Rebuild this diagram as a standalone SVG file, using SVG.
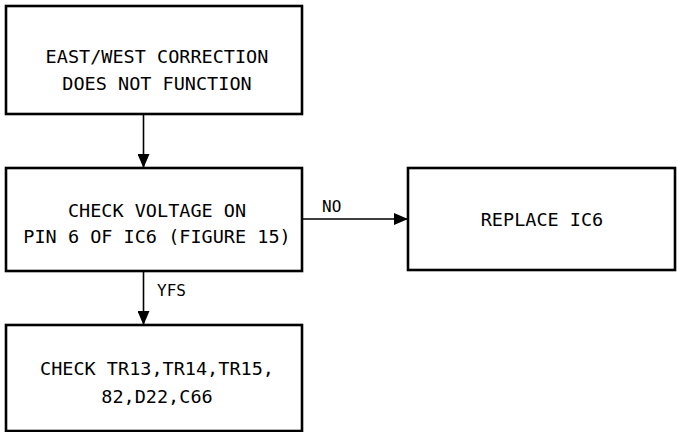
<svg xmlns="http://www.w3.org/2000/svg" width="677" height="432" viewBox="0 0 677 432">
<style>
.box{fill:#fff;stroke:#000;stroke-width:2.6}
.t{font-family:"DejaVu Sans Mono","Liberation Mono",monospace;font-size:18.5px;fill:#000;text-anchor:middle}
.l{font-family:"DejaVu Sans Mono","Liberation Mono",monospace;font-size:16px;fill:#000}
.c{stroke:#000;stroke-width:1.6;fill:none}
</style>
<defs>
<marker id="ah" viewBox="0 0 14 12" refX="14" refY="6" markerWidth="14" markerHeight="12" markerUnits="userSpaceOnUse" orient="auto">
<path d="M0,0 L14,6 L0,12 Z" fill="#000"/>
</marker>
</defs>
<rect width="677" height="432" fill="#fff"/>
<g id="connectors">
<line class="c" x1="143.5" y1="114" x2="143.5" y2="168" marker-end="url(#ah)"/>
<line class="c" x1="302" y1="219" x2="408" y2="219" marker-end="url(#ah)"/>
<text class="l" x="322" y="212">NO</text>
<line class="c" x1="143.5" y1="271" x2="143.5" y2="325" marker-end="url(#ah)"/>
<text class="l" x="157" y="296">YFS</text>
</g>
<g id="n1">
<rect class="box" x="6" y="6" width="296" height="108"/>
<text class="t" x="157" y="63">EAST/WEST CORRECTION</text>
<text class="t" x="157" y="90">DOES NOT FUNCTION</text>
</g>
<g id="n2">
<rect class="box" x="6" y="168" width="296" height="103"/>
<text class="t" x="157" y="217">CHECK VOLTAGE ON</text>
<text class="t" x="157" y="243">PIN 6 OF IC6 (FIGURE 15)</text>
</g>
<g id="n3">
<rect class="box" x="408" y="168" width="267" height="102"/>
<text class="t" x="542" y="226">REPLACE IC6</text>
</g>
<g id="n4">
<rect class="box" x="6" y="325" width="296" height="106"/>
<text class="t" x="157" y="375">CHECK TR13,TR14,TR15,</text>
<text class="t" x="157" y="403">82,D22,C66</text>
</g>
</svg>
